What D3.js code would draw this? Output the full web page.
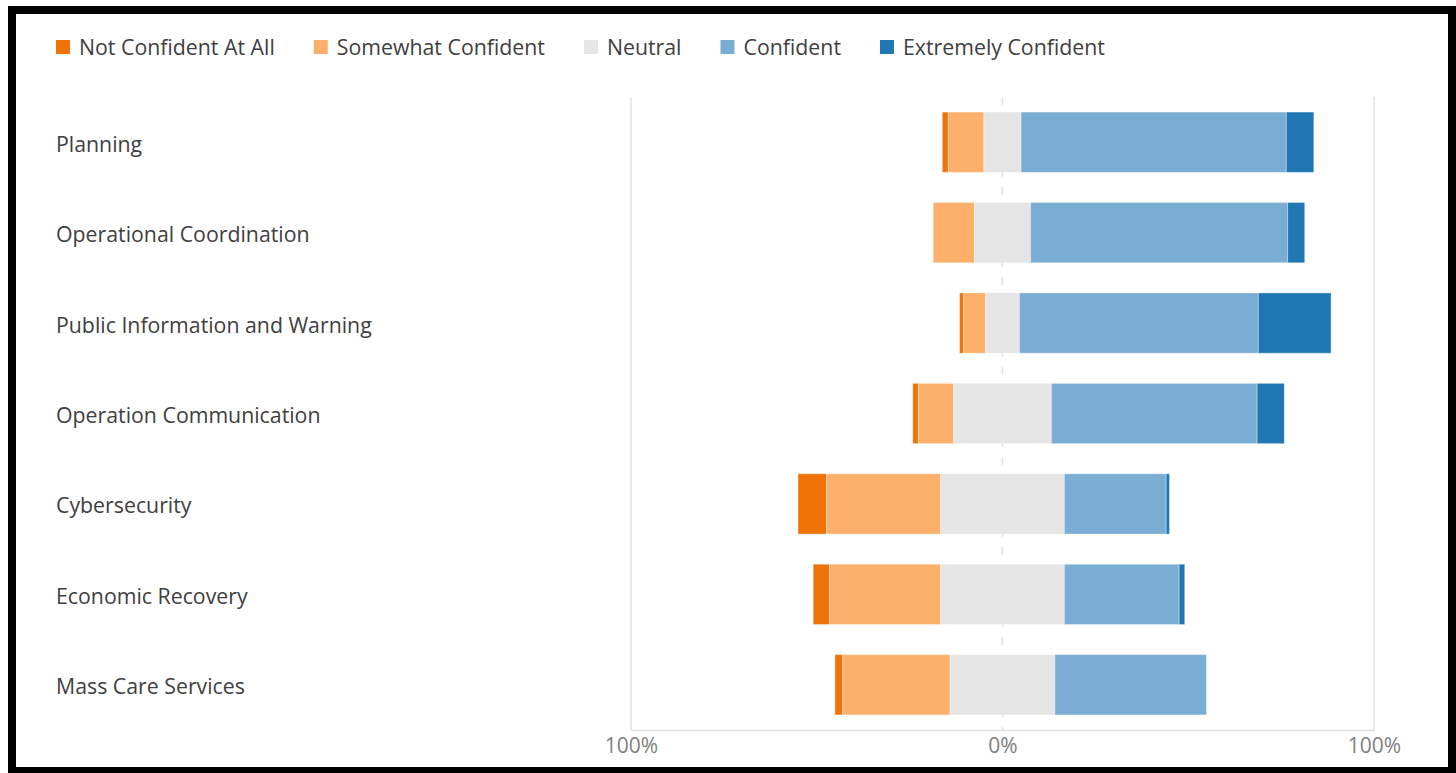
<!DOCTYPE html>
<html>
<head>
<meta charset="utf-8">
<script src="https://cdn.jsdelivr.net/npm/d3@7.9.0/dist/d3.min.js"></script>
<style>
  html, body { margin: 0; padding: 0; background: #fff; }
  svg { display: block; font-family: "Open Sans", sans-serif; }
</style>
</head>
<body>
<svg id="chart" width="1456" height="773"></svg>
<script>
// === data (percent of answers per item) ===
const categories = [
  'Planning',
  'Operational Coordination',
  'Public Information and Warning',
  'Operation Communication',
  'Cybersecurity',
  'Economic Recovery',
  'Mass Care Services'
];
const levels = ['Not Confident At All', 'Somewhat Confident', 'Neutral', 'Confident', 'Extremely Confident'];
const levelColors = ['#ef7307', '#fdb06c', '#e5e5e5', '#7aadd3', '#2077b4'];

const notConfident      = [1.6, 0.0, 1.1, 1.5, 7.7, 4.4, 2.1];
const somewhatConfident = [9.6, 11.1, 5.9, 9.5, 30.7, 29.9, 28.9];
const neutral           = [10.0, 15.1, 9.1, 26.3, 33.3, 33.3, 28.2];
const confident         = [71.4, 69.2, 64.3, 55.4, 27.4, 30.9, 40.8];
const extremelyConf     = [7.4, 4.6, 19.6, 7.3, 0.9, 1.5, 0.0];

const tickValues = [-100, 0, 100];

const series = [notConfident, somewhatConfident, neutral, confident, extremelyConf];

const svg = d3.select('#chart');

// black frame round the whole thing
svg.append('rect')
  .attr('x', 12).attr('y', 10)
  .attr('width', 1440).attr('height', 761)
  .attr('fill', '#fff')
  .attr('stroke', '#000')
  .attr('stroke-width', 8);

const x = d3.scaleLinear().domain([-100, 100]).range([631, 1374]);
const y = d3.scaleBand().domain(categories).range([97, 730])
  .paddingInner(1 / 3).paddingOuter(1 / 6);

// grid lines
svg.append('g')
  .selectAll('line')
  .data(tickValues)
  .join('line')
  .attr('x1', d => x(d)).attr('x2', d => x(d))
  .attr('y1', 97).attr('y2', 730)
  .attr('stroke', '#e3e3e3')
  .attr('stroke-width', 1.5)
  .attr('stroke-dasharray', d => d === 0 ? '8,10' : null);

// build the diverging segments: neutral is split around 0
let segments = [];
categories.forEach((cat, i) => {
  let start = -(notConfident[i] + somewhatConfident[i] + neutral[i] / 2);
  series.forEach((s, k) => {
    segments.push({ cat: cat, level: k, x0: start, x1: start + s[i] });
    start += s[i];
  });
});
segments = segments.filter(d => d.x1 - d.x0 > 0);

svg.append('g')
  .selectAll('rect')
  .data(segments)
  .join('rect')
  .attr('x', d => x(d.x0))
  .attr('width', d => x(d.x1) - x(d.x0))
  .attr('y', d => y(d.cat))
  .attr('height', y.bandwidth())
  .attr('fill', d => levelColors[d.level])
  .attr('stroke', '#fff')
  .attr('stroke-opacity', 0.35)
  .attr('stroke-width', 1);

// category labels on the left
svg.append('g')
  .selectAll('text')
  .data(categories)
  .join('text')
  .attr('x', 56)
  .attr('y', d => y(d) + y.bandwidth() / 2 + 9.5)
  .attr('font-size', 21.3)
  .attr('fill', '#404040')
  .text(d => d);

// x axis
const axis = svg.append('g')
  .attr('transform', 'translate(0,730)')
  .call(d3.axisBottom(x)
    .tickValues(tickValues)
    .tickSize(0)
    .tickPadding(8)
    .tickFormat(d => Math.abs(d) + '%'));
axis.select('.domain').attr('stroke', '#e0e0e0').attr('stroke-width', 1.5);
axis.selectAll('text')
  .attr('font-family', '"Open Sans", sans-serif')
  .attr('font-size', 21)
  .attr('fill', '#808080');

// legend across the top
const legend = svg.append('g');
let lx = 56;
levels.forEach((name, k) => {
  legend.append('rect')
    .attr('x', lx).attr('y', 40)
    .attr('width', 14).attr('height', 14)
    .attr('fill', levelColors[k]);
  const t = legend.append('text')
    .attr('x', lx + 23).attr('y', 54.5)
    .attr('font-size', 21.3)
    .attr('fill', '#404040')
    .text(name);
  lx += 23 + t.node().getComputedTextLength() + 39;
});
</script>
</body>
</html>
